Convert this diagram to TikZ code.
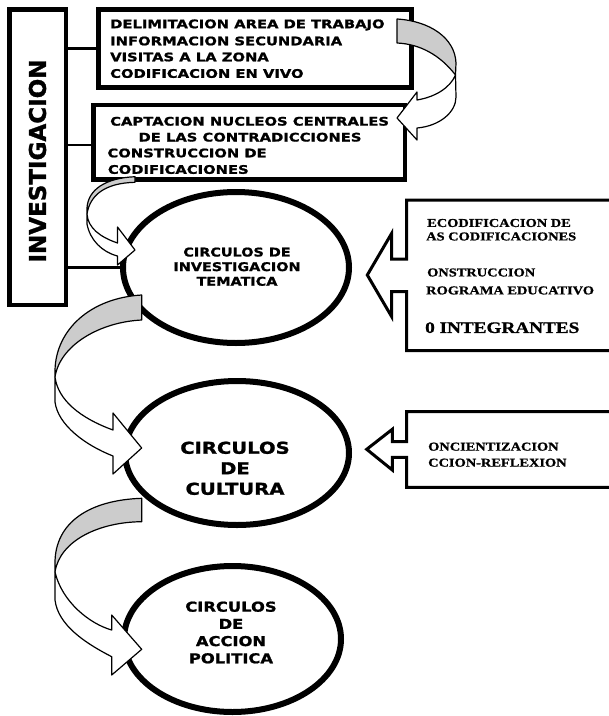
\documentclass[tikz,border=0pt]{standalone}
\usepackage{fontspec}
\usetikzlibrary{shapes.geometric}
\newfontfamily\vb[FakeStretch=1.2, FakeBold=1.3]{DejaVu Sans Bold}
\newfontfamily\vbw[FakeStretch=1.25, FakeBold=1.3]{DejaVu Sans Bold}
\newfontfamily\vbn[FakeBold=1.3]{DejaVu Sans Bold}
\newfontfamily\tb[FakeStretch=1.2, FakeBold=1.1]{Liberation Serif Bold}
\definecolor{ribbon}{HTML}{CCCCCC}
\tikzset{
  frame/.style={draw, rectangle, line width=5pt, inner sep=0pt},
  circ/.style={draw, ellipse, line width=6pt, inner sep=0pt},
  conn/.style={line width=2.5pt},
  boxtxt/.style={inner sep=0pt, anchor=west, font=\vbw\fontsize{11.8}{14}\selectfont},
  sidetxt/.style={inner sep=0pt, anchor=west, font=\tb\fontsize{12}{14}\selectfont},
  bigside/.style={inner sep=0pt, anchor=west, font=\tb\fontsize{16}{18}\selectfont},
  back/.style={fill=ribbon, draw=black, line width=1.2pt, line join=round},
  front/.style={fill=white, draw=black, line width=1.2pt, line join=round},
  callout/.style={fill=white, draw=black, line width=3pt, line join=miter}
}
\begin{document}
\begin{tikzpicture}[x=1pt,y=-1pt]
\useasboundingbox (0,0) rectangle (609,716);
\clip (0,0) rectangle (609,716);

% main frames
\node[frame, line width=4.5pt, minimum width=56.5pt, minimum height=295.5pt] (inv) at (37.5,157) {};
\node[inner sep=0pt, rotate=90, font=\vbn\fontsize{23}{23}\selectfont] (invt) at (37.5,161) {INVESTIGACION};

\node[frame, minimum width=313pt, minimum height=78pt] (box1) at (255,48.5) {};
\node[frame, line width=4.5pt, minimum width=311.5pt, minimum height=74.5pt] (box2) at (249.25,142.25) {};

\node[boxtxt] (t1a) at (110,25) {DELIMITACION AREA DE TRABAJO};
\node[boxtxt] (t1b) at (110,41) {INFORMACION SECUNDARIA};
\node[boxtxt] (t1c) at (110,57) {VISITAS A LA ZONA};
\node[boxtxt] (t1d) at (110,73.5) {CODIFICACION EN VIVO};

\node[boxtxt] (t2a) at (110,121.3) {CAPTACION NUCLEOS CENTRALES};
\node[boxtxt] (t2b) at (138.3,137.2) {DE LAS CONTRADICCIONES};
\node[boxtxt] (t2c) at (107.3,153) {CONSTRUCCION DE};
\node[boxtxt] (t2d) at (107.7,169.5) {CODIFICACIONES};

% ellipses
\node[circ, minimum width=226pt, minimum height=151pt] (ell1) at (236,267.5) {};
\node[circ, minimum width=224pt, minimum height=144pt] (ell2) at (237,453) {};
\node[circ, minimum width=217pt, minimum height=146pt] (ell3) at (232.5,639) {};

\node[inner sep=0pt, align=center, font=\vb\fontsize{12}{14.6}\selectfont] (e1t) at (237,266.7) {CIRCULOS DE\\INVESTIGACION\\TEMATICA};
\node[inner sep=0pt, align=center, font=\vb\fontsize{16.3}{20.5}\selectfont] (e2t) at (235,468.3) {CIRCULOS\\DE\\CULTURA};
\node[inner sep=0pt, align=center, font=\vb\fontsize{13.6}{17.2}\selectfont] (e3t) at (231,632.5) {CIRCULOS\\DE\\ACCION\\POLITICA};

% connectors from INVESTIGACION
\coordinate (b2in) at ([yshift=-2.5pt]box2.west);
\draw[conn] (inv.east |- box1.west) -- (box1.west);
\draw[conn] (inv.east |- b2in) -- (b2in);
\draw[conn] (inv.east |- ell1.west) -- (ell1.west);

% curved arrow A (box1 -> box2)
\path[back] (397,19) .. controls (430,21) and (455,38) .. (456,63) -- (455.5,75) .. controls (440,55) and (420,44) .. (397,43) -- cycle;
\path[front] (455.5,75) -- (456,97) .. controls (456,112) and (440,126) .. (417,128) -- (417,140) -- (397,118) -- (417,92) -- (417,100) .. controls (435,97) and (450,88) .. (455.5,75) -- cycle;

% curved arrow B (box2 -> ell1)
\path[back] (135,176.7) .. controls (105,178) and (88,190) .. (87,208) -- (87,214) .. controls (90,195) and (105,183) .. (135,182.3) -- cycle;
\path[front] (87,214) -- (87,224) .. controls (90,240) and (102,252) .. (117.5,256) -- (117.5,265) -- (135,250) -- (117.5,227) -- (117.5,243) .. controls (100,237) and (88,228) .. (87,214) -- cycle;

% curved arrow C (ell1 -> ell2)
\path[back] (141.7,295) .. controls (90,298) and (56,330) .. (55,370) -- (55,377) .. controls (60,345) and (100,322) .. (141.7,320) -- cycle;
\path[front] (55,377) -- (55,402) .. controls (58,425) and (85,445) .. (113,456) -- (113,474) -- (141.7,448) -- (113,413) -- (113,430) .. controls (80,418) and (58,400) .. (55,377) -- cycle;

% curved arrow D (ell2 -> ell3)
\path[back] (141.7,498.3) .. controls (90,500) and (55,522) .. (55,563) -- (55,572) .. controls (60,540) and (100,522) .. (141.7,521.7) -- cycle;
\path[front] (55,572) -- (55,600) .. controls (58,625) and (85,643) .. (111.7,656.7) -- (111.7,675) -- (141.7,649.3) -- (111.7,615) -- (111.7,630) .. controls (90,624) and (62,602) .. (55,572) -- cycle;

% left-arrow callouts on the right
\draw[callout] (615,200) -- (406.7,200) -- (406.7,259) -- (391.7,259) -- (391.7,233.3) -- (367.3,275) -- (391.7,316.7) -- (391.7,291.7) -- (406.7,291.7) -- (406.7,350.7) -- (615,350.7);
\draw[callout] (615,411.7) -- (406.7,411.7) -- (406.7,441.7) -- (392.3,441.7) -- (392.3,429.3) -- (366.7,449.3) -- (392.3,470) -- (392.3,457.3) -- (406.7,457.3) -- (406.7,487.3) -- (615,487.3);

\node[sidetxt] (s1a) at (427,223) {ECODIFICACION DE};
\node[sidetxt] (s1b) at (426,236.5) {AS CODIFICACIONES};
\node[sidetxt] (s1c) at (427,272.5) {ONSTRUCCION};
\node[sidetxt] (s1d) at (426,290.5) {ROGRAMA EDUCATIVO};
\node[bigside] (s1e) at (425,327.7) {0 INTEGRANTES};

\node[sidetxt] (s2a) at (428,446.7) {ONCIENTIZACION};
\node[sidetxt] (s2b) at (428,462.7) {CCION-REFLEXION};
\end{tikzpicture}
\end{document}
